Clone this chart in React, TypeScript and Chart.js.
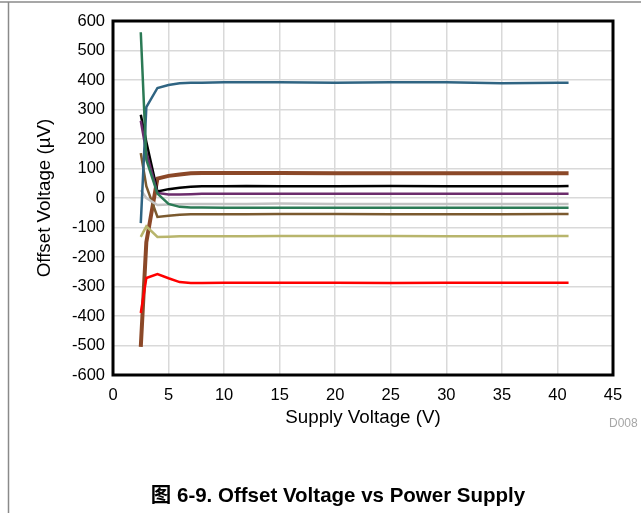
import React, { useEffect, useRef } from "react";
import { Chart, registerables } from "chart.js";

Chart.register(...registerables);

// Supply voltage sweep points (V)
const supplyVoltage = [2.5, 3, 4, 5, 6, 7, 8, 10, 12, 15, 20, 25, 30, 35, 40, 41];

// Offset voltage per unit (µV)
const unitTeal = [-85, 308, 373, 383, 389, 391, 391, 392, 392, 392, 391, 392, 392, 389, 391, 391];
const unitGreen = [562, 130, 15, -20, -30, -32, -32, -33, -33, -33, -33, -33, -33, -33, -33, -33];
const unitBlack = [282, 190, 22, 30, 35, 38, 40, 40, 41, 40, 40, 41, 40, 40, 40, 41];
const unitPurple = [262, 155, 17, 12, 12, 13, 14, 14, 14, 14, 14, 14, 14, 14, 14, 14];
const unitGray = [27, 0, -24, -22, -21, -20, -20, -20, -20, -19, -20, -20, -20, -20, -20, -20];
const unitBrown = [152, 40, -64, -60, -57, -55, -55, -55, -55, -54, -54, -55, -55, -55, -54, -54];
const unitKhaki = [-132, -96, -132, -131, -130, -130, -130, -130, -130, -129, -129, -129, -130, -130, -129, -129];
const unitRed = [-390, -271, -258, -272, -285, -288, -288, -287, -287, -287, -287, -288, -287, -287, -287, -287];
const unitSienna = [-505, -150, 66, 75, 80, 84, 85, 85, 85, 85, 84, 84, 84, 84, 84, 84];

const xTicks = { min: 0, max: 45, step: 5 };
const yTicks = { min: -600, max: 600, step: 100 };

const FONT = "Arial, 'Liberation Sans', 'Noto Sans CJK SC', sans-serif";

const seriesList = [
  { label: "Unit 1", data: unitGreen, color: "#2b7a55", width: 2.5 },
  { label: "Unit 2", data: unitTeal, color: "#2f6482", width: 2.5 },
  { label: "Unit 3", data: unitGray, color: "#c3c3c3", width: 2.5 },
  { label: "Unit 4", data: unitBrown, color: "#7b5a2f", width: 2.5 },
  { label: "Unit 5", data: unitKhaki, color: "#b8b56c", width: 2.5 },
  { label: "Unit 6", data: unitPurple, color: "#6c2c6c", width: 2.5 },
  { label: "Unit 7", data: unitBlack, color: "#000000", width: 2.5 },
  { label: "Unit 8", data: unitRed, color: "#ff0000", width: 2.5 },
  { label: "Unit 9", data: unitSienna, color: "#8b4828", width: 4 },
];

// Black box around the plot area, the page frame and the captions
const framePlugin = {
  id: "frameAndCaptions",
  beforeDraw(chart: any) {
    const { ctx, width, height } = chart;
    ctx.save();
    ctx.fillStyle = "#ffffff";
    ctx.fillRect(0, 0, width, height);
    ctx.strokeStyle = "#8a8a8a";
    ctx.lineWidth = 1.5;
    ctx.beginPath();
    ctx.moveTo(0, 2);
    ctx.lineTo(width, 2);
    ctx.moveTo(8.5, 2);
    ctx.lineTo(8.5, height);
    ctx.stroke();
    ctx.restore();
  },
  afterDraw(chart: any) {
    const { ctx, chartArea } = chart;
    const { left, top, right, bottom } = chartArea;
    ctx.save();
    ctx.strokeStyle = "#000000";
    ctx.lineWidth = 3;
    ctx.strokeRect(left, top, right - left, bottom - top);

    ctx.fillStyle = "#a6a6a6";
    ctx.font = `12px ${FONT}`;
    ctx.textAlign = "left";
    ctx.textBaseline = "alphabetic";
    ctx.fillText("D008", 609, 427);

    ctx.fillStyle = "#000000";
    ctx.font = `bold 20.5px ${FONT}`;
    ctx.textAlign = "center";
    ctx.fillText("图 6-9. Offset Voltage vs Power Supply", 338, 502);
    ctx.restore();
  },
};

export default function App() {
  const canvasRef = useRef<HTMLCanvasElement | null>(null);

  useEffect(() => {
    document.body.style.margin = "0";
    const canvas = canvasRef.current;
    if (!canvas) return;
    const chart = new Chart(canvas, {
      type: "line",
      data: {
        labels: supplyVoltage,
        datasets: seriesList.map((s) => ({
          label: s.label,
          data: supplyVoltage.map((x, i) => ({ x, y: s.data[i] })),
          borderColor: s.color,
          backgroundColor: s.color,
          borderWidth: s.width,
          pointRadius: 0,
          tension: 0,
          fill: false,
        })),
      },
      options: {
        responsive: false,
        animation: false,
        devicePixelRatio: 1,
        layout: { padding: { top: 21, right: 28, bottom: 78, left: 0 } },
        plugins: {
          legend: { display: false },
          tooltip: { enabled: false },
        },
        scales: {
          x: {
            type: "linear",
            min: xTicks.min,
            max: xTicks.max,
            afterFit: (scale: any) => {
              scale.height = 60;
            },
            ticks: {
              stepSize: xTicks.step,
              color: "#000000",
              padding: 11,
              maxRotation: 0,
              font: { family: FONT, size: 16.5 },
            },
            grid: { color: "#d9d9d9", lineWidth: 1.5, drawTicks: false },
            border: { display: false },
            title: {
              display: true,
              text: "Supply Voltage (V)",
              color: "#000000",
              font: { family: FONT, size: 18.8 },
              padding: { top: 0, bottom: 6 },
            },
          },
          y: {
            type: "linear",
            min: yTicks.min,
            max: yTicks.max,
            afterFit: (scale: any) => {
              scale.width = 113;
            },
            ticks: {
              stepSize: yTicks.step,
              color: "#000000",
              padding: 8,
              font: { family: FONT, size: 16.5 },
            },
            grid: { color: "#d9d9d9", lineWidth: 1.5, drawTicks: false },
            border: { display: false },
            title: {
              display: true,
              text: "Offset Voltage (µV)",
              color: "#000000",
              font: { family: FONT, size: 18.8 },
              padding: { top: 34, bottom: 0 },
            },
          },
        },
      },
      plugins: [framePlugin],
    });
    return () => chart.destroy();
  }, []);

  return (
    <div style={{ position: "absolute", left: 0, top: 0, width: 641, height: 513 }}>
      <canvas ref={canvasRef} width={641} height={513} style={{ display: "block", width: 641, height: 513 }} />
    </div>
  );
}
